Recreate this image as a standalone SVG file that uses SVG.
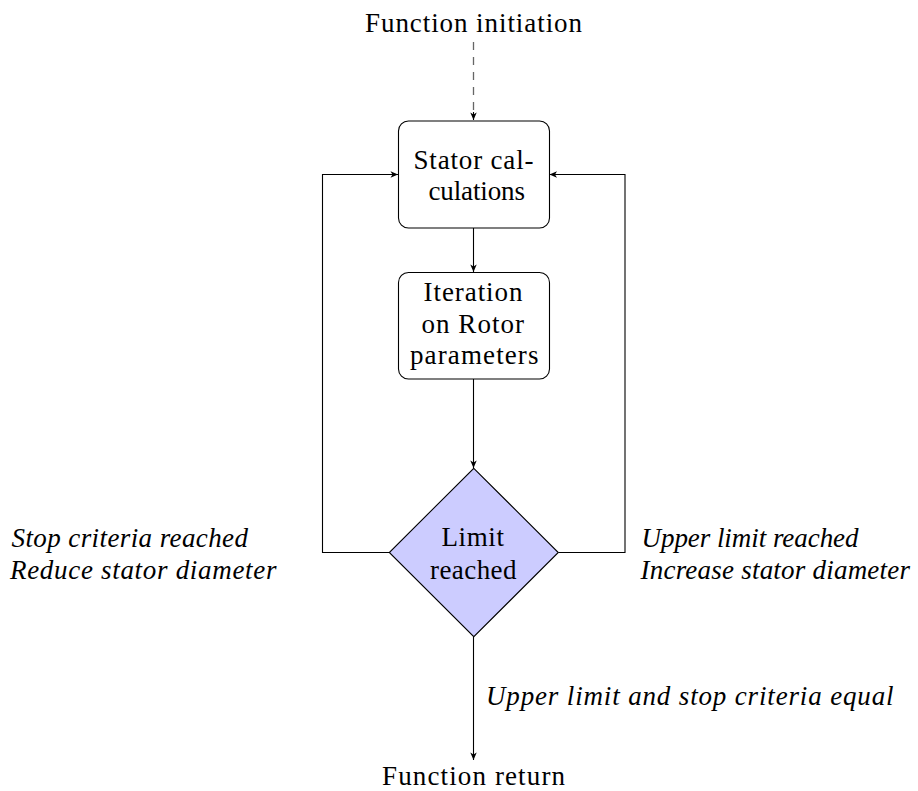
<svg xmlns="http://www.w3.org/2000/svg" width="918" height="791" viewBox="0 0 918 791">
  <style>
    .box { fill: #ffffff; stroke: #000000; stroke-width: 1.1; }
    .decision { fill: #ccccff; stroke: #000000; stroke-width: 1.1; }
    text { font-family: 'Liberation Serif', 'Times New Roman', serif; font-size: 27px; fill: #000000; }
    .note { font-style: italic; }
    .edge { fill: none; stroke: #000000; stroke-width: 1.1; }
    .dashed { fill: none; stroke: #666666; stroke-width: 1.3; stroke-dasharray: 8 7; }
  </style>
  <defs>
    <marker id="arrow" viewBox="-8 -4 9 8" refX="0" refY="0" markerWidth="9" markerHeight="8" markerUnits="userSpaceOnUse" orient="auto">
      <path d="M0,0 L-7.5,-3.2 L-5.5,0 L-7.5,3.2 Z" fill="#000000"/>
    </marker>
  </defs>

  <rect width="918" height="791" fill="#ffffff"/>

  <!-- connectors -->
  <g id="connectors">
    <line class="dashed" x1="473.5" y1="42" x2="473.5" y2="113"/>
    <line class="edge" x1="473.5" y1="112" x2="473.5" y2="120" marker-end="url(#arrow)"/>
    <line class="edge" x1="473.5" y1="228" x2="473.5" y2="272" marker-end="url(#arrow)"/>
    <line class="edge" x1="473.5" y1="379" x2="473.5" y2="468" marker-end="url(#arrow)"/>
    <polyline class="edge" points="389.5,552.5 322.5,552.5 322.5,174.5 398,174.5" marker-end="url(#arrow)"/>
    <polyline class="edge" points="558.5,552.5 625,552.5 625,174.5 549.5,174.5" marker-end="url(#arrow)"/>
    <line class="edge" x1="473.5" y1="637" x2="473.5" y2="760" marker-end="url(#arrow)"/>
  </g>

  <!-- entry and exit terminals -->
  <g id="start">
    <text x="365" y="32" textLength="217">Function initiation</text>
  </g>
  <g id="end">
    <text x="382" y="785" textLength="183">Function return</text>
  </g>

  <!-- process steps -->
  <g id="stator">
    <rect class="box" x="398.5" y="121" width="151" height="107" rx="10" ry="10"/>
    <text x="413.5" y="168.5" textLength="120">Stator cal-</text>
    <text x="428.5" y="200" textLength="96.5">culations</text>
  </g>
  <g id="rotor">
    <rect class="box" x="398.5" y="272.5" width="151" height="106.5" rx="10" ry="10"/>
    <text x="423.5" y="300.5" textLength="99">Iteration</text>
    <text x="421.5" y="332.5" textLength="102.5">on Rotor</text>
    <text x="410" y="364" textLength="128.5">parameters</text>
  </g>

  <!-- decision -->
  <g id="limit">
    <polygon class="decision" points="473.8,468.3 558.3,552.5 473.8,636.7 389.3,552.5"/>
    <text x="441.5" y="546" textLength="62.5">Limit</text>
    <text x="430" y="578.5" textLength="86.5">reached</text>
  </g>

  <!-- branch notes -->
  <g id="note-left">
    <text class="note" x="11.5" y="546.5" textLength="236.5">Stop criteria reached</text>
    <text class="note" x="10" y="578.5" textLength="266.5">Reduce stator diameter</text>
  </g>
  <g id="note-right">
    <text class="note" x="641.5" y="546.5" textLength="217">Upper limit reached</text>
    <text class="note" x="640.5" y="578.5" textLength="269.5">Increase stator diameter</text>
  </g>
  <g id="note-bottom">
    <text class="note" x="486" y="705" textLength="407.5">Upper limit and stop criteria equal</text>
  </g>
</svg>
